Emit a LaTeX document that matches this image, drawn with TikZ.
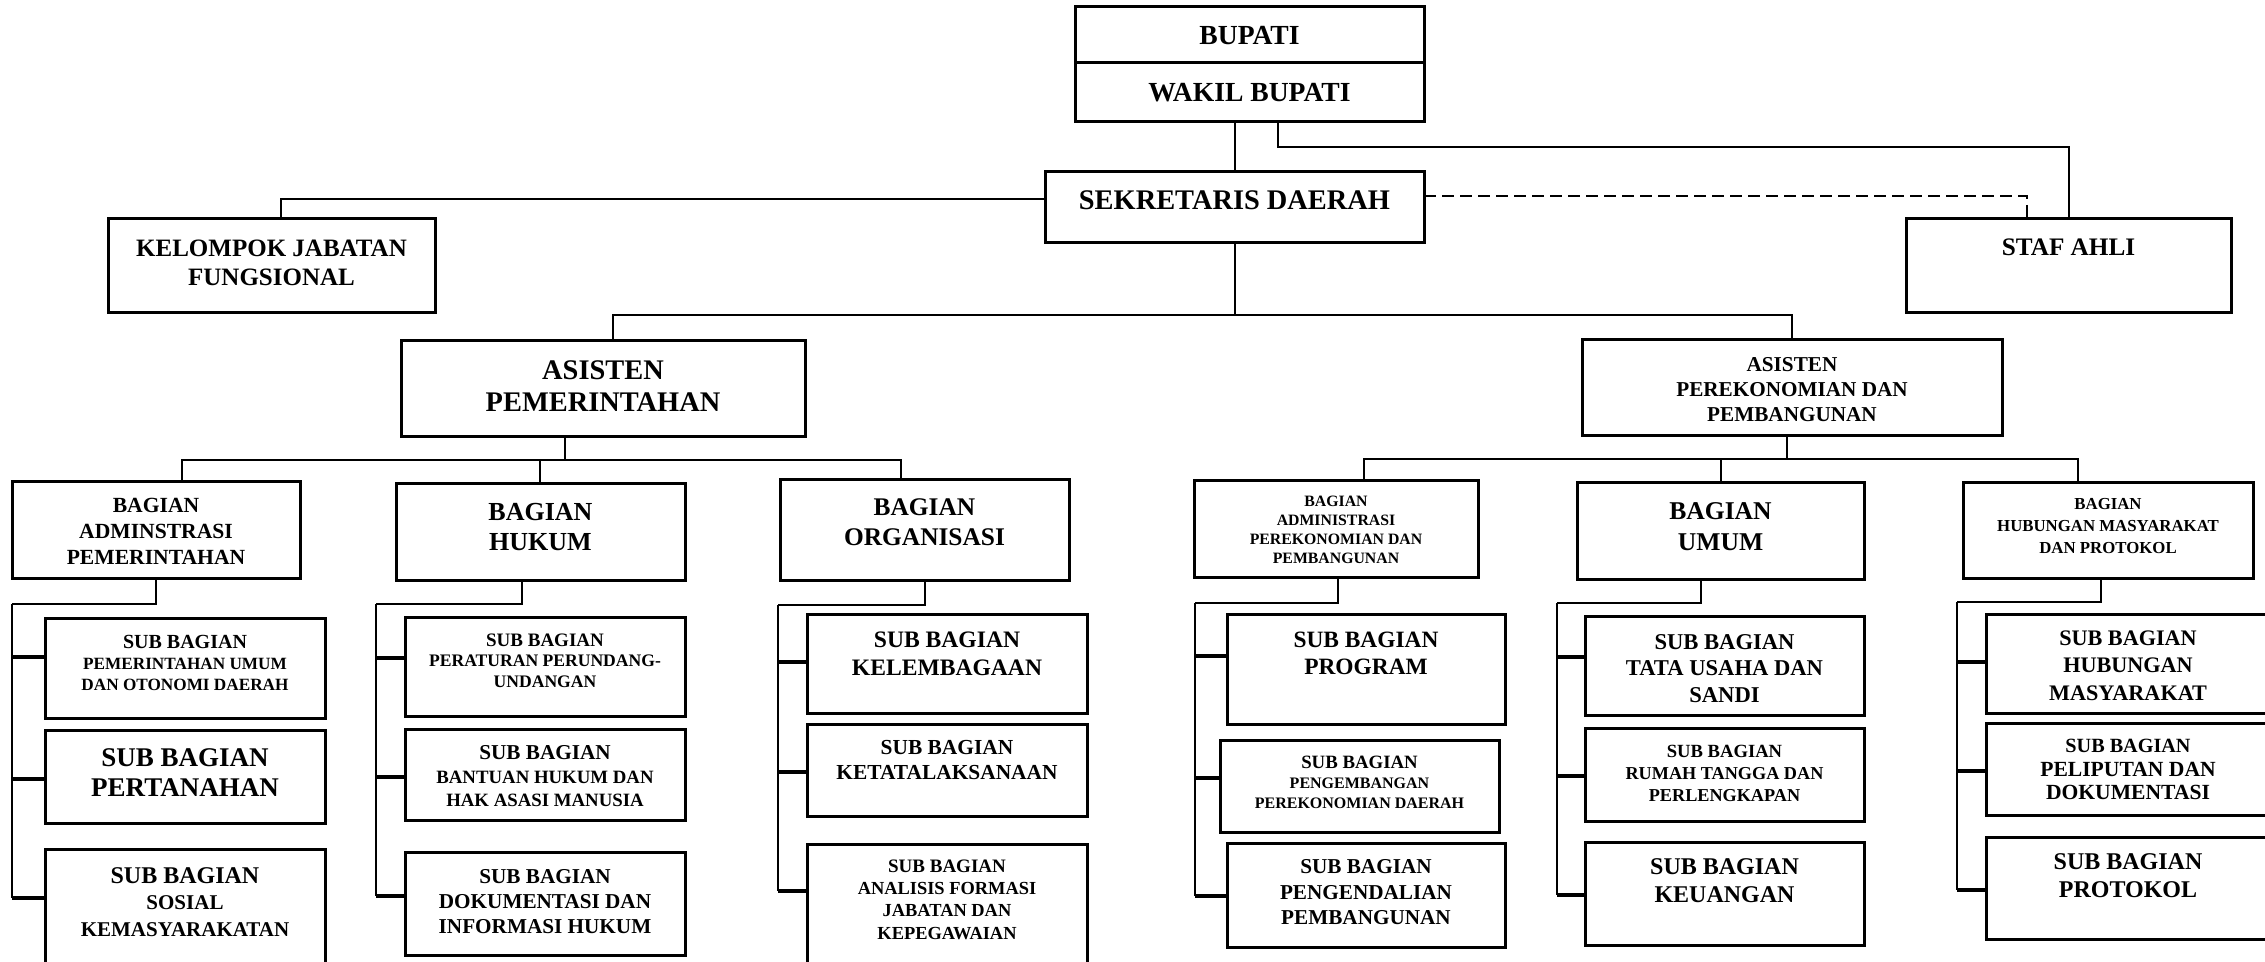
\documentclass[tikz,border=0pt]{standalone}
\usepackage{fontspec}
\setmainfont{Liberation Serif}
\newcommand\fz[2]{\fontsize{#1}{#2}\selectfont}
\tikzset{
  box/.style={draw, line width=1.5pt, inner sep=0pt, outer sep=0pt},
  lbl/.style={align=center, inner sep=0pt, outer sep=0pt},
  conn/.style={line width=1pt},
  tick/.style={line width=1.6pt},
  vbar/.style={line width=0.8pt}
}
\newcommand\obox[9]{%
  \node[box, minimum width={(#4-#2)*0.5pt}, minimum height={(#5-#3)*0.5pt}] (#1) at ({(#2+#4)/2},{(#3+#5)/2}) {};
  \node[lbl, font=\bfseries\fz{#7}{#8}] (#1-t) at ({(#2+#4)/2},#6) {#9};}
\begin{document}
\begin{tikzpicture}[x=0.5pt, y=-0.5pt]
\useasboundingbox (0,0) rectangle (2265,962);
\clip (0,0) rectangle (2265,962);
% top
\obox{bupati}{1075}{7}{1424}{63}{35.5}{13.8}{16}{BUPATI}
\obox{wakil}{1075}{63}{1424}{122}{93}{13.8}{16}{WAKIL BUPATI}
\obox{sekda}{1045}{172}{1424}{243}{200.5}{14.2}{16}{SEKRETARIS DAERAH}
\obox{kjf}{108}{219}{435}{313}{262.5}{12.5}{14.5}{KELOMPOK JABATAN\\FUNGSIONAL}
\obox{staf}{1906}{219}{2231}{313}{247}{12.6}{14}{STAF AHLI}
\obox{asp}{401}{341}{805}{437}{386}{14.2}{16}{ASISTEN\\PEMERINTAHAN}
\obox{ase}{1582}{340}{2002}{436}{389.5}{10.6}{12.5}{ASISTEN\\PEREKONOMIAN DAN\\PEMBANGUNAN}
% bagian
\obox{bap}{12}{482}{300}{578}{531}{10.8}{13}{BAGIAN\\ADMINSTRASI\\PEMERINTAHAN}
\obox{bhk}{396}{484}{685}{580}{527}{13}{15}{BAGIAN\\HUKUM}
\obox{bor}{780}{480}{1069}{580}{522}{12.7}{15}{BAGIAN\\ORGANISASI}
\obox{bae}{1194}{481}{1478}{577}{530}{7.9}{9.6}{BAGIAN\\ADMINISTRASI\\PEREKONOMIAN DAN\\PEMBANGUNAN}
\obox{bum}{1577}{483}{1864}{579}{526.5}{12.8}{15.5}{BAGIAN\\UMUM}
\obox{bhm}{1963}{483}{2253}{578}{526}{8.4}{10.8}{BAGIAN\\HUBUNGAN MASYARAKAT\\DAN PROTOKOL}
% sub bagian col 1
\obox{s11}{45}{618}{325}{718}{663}{8.6}{10.5}{{\fz{10}{10.5}SUB BAGIAN}\\PEMERINTAHAN UMUM\\DAN OTONOMI DAERAH}
\obox{s12}{45}{730}{325}{823}{773}{13.5}{15}{SUB BAGIAN\\PERTANAHAN}
\obox{s13}{45}{849}{325}{1000}{902}{10.5}{13.25}{{\fz{12}{13.25}SUB BAGIAN}\\SOSIAL\\KEMASYARAKATAN}
% col 2
\obox{s21}{405}{617}{685}{716}{660.5}{8.8}{10.25}{{\fz{9.5}{10.25}SUB BAGIAN}\\PERATURAN PERUNDANG-\\UNDANGAN}
\obox{s22}{405}{729}{685}{820}{776.5}{9.4}{11.75}{{\fz{10.6}{11.75}SUB BAGIAN}\\BANTUAN HUKUM DAN\\HAK ASASI MANUSIA}
\obox{s23}{405}{852}{685}{955}{902}{10.6}{12.5}{SUB BAGIAN\\DOKUMENTASI DAN\\INFORMASI HUKUM}
% col 3
\obox{s31}{807}{614}{1087}{713}{654}{11.8}{14}{SUB BAGIAN\\KELEMBAGAAN}
\obox{s32}{807}{724}{1087}{816}{760.5}{10.7}{12.5}{SUB BAGIAN\\KETATALAKSANAAN}
\obox{s33}{807}{844}{1087}{1000}{899.5}{9.2}{11.15}{{\fz{9.5}{11.15}SUB BAGIAN}\\ANALISIS FORMASI\\JABATAN DAN\\KEPEGAWAIAN}
% col 4
\obox{s41}{1227}{614}{1505}{724}{653.5}{11.7}{13.5}{SUB BAGIAN\\PROGRAM}
\obox{s42}{1220}{740}{1499}{832}{782}{8.0}{10}{{\fz{9.4}{10}SUB BAGIAN}\\PENGEMBANGAN\\PEREKONOMIAN DAERAH}
\obox{s43}{1227}{843}{1505}{947}{892.5}{10.6}{12.75}{SUB BAGIAN\\PENGENDALIAN\\PEMBANGUNAN}
% col 5
\obox{s51}{1585}{616}{1864}{715}{668.5}{11.3}{13.25}{SUB BAGIAN\\TATA USAHA DAN\\SANDI}
\obox{s52}{1585}{728}{1864}{821}{773}{9.1}{11}{{\fz{9.3}{11}SUB BAGIAN}\\RUMAH TANGGA DAN\\PERLENGKAPAN}
\obox{s53}{1585}{842}{1864}{945}{881}{12}{14}{SUB BAGIAN\\KEUANGAN}
% col 6
\obox{s61}{1986}{614}{2270}{713}{665.5}{11.1}{13.75}{SUB BAGIAN\\HUBUNGAN\\MASYARAKAT}
\obox{s62}{1986}{723}{2270}{815}{769.5}{10.8}{11.75}{{\fz{10.1}{11.75}SUB BAGIAN}\\PELIPUTAN DAN\\DOKUMENTASI}
\obox{s63}{1986}{837}{2270}{939}{876}{12}{14}{SUB BAGIAN\\PROTOKOL}

% top connectors
\draw[conn] (sekda.north) -- (sekda.north |- wakil.south);
\coordinate (j1) at (1278,147);
\draw[conn] (wakil.south -| j1) -- (j1) -| (staf.north);
\coordinate (j2) at (2027,196);
\draw[conn, dashed, dash pattern=on 6pt off 3pt] (sekda.east |- j2) -- (j2) -- (j2 |- staf.north);
\coordinate (j3) at (281,199);
\draw[conn] (sekda.west |- j3) -- (j3) -- (j3 |- kjf.north);
\coordinate (h1l) at (613,315);
\coordinate (h1r) at (1792,315);
\draw[conn] (sekda.south) -- (sekda.south |- h1l);
\draw[conn] (asp.north -| h1l) -- (h1l) -- (h1r) -- (ase.north -| h1r);
% asisten pemerintahan branch
\coordinate (a1) at (565,460);
\coordinate (a1l) at (182,460);
\coordinate (a1m) at (540,460);
\coordinate (a1r) at (901,460);
\draw[conn] (asp.south -| a1) -- (a1);
\draw[conn] (bap.north -| a1l) -- (a1l) -- (a1r) -- (bor.north -| a1r);
\draw[conn] (a1m) -- (bhk.north -| a1m);
% asisten perekonomian branch
\coordinate (a2) at (1787,459);
\coordinate (a2l) at (1364,459);
\coordinate (a2m) at (1721,459);
\coordinate (a2r) at (2078,459);
\draw[conn] (ase.south -| a2) -- (a2);
\draw[conn] (bae.north -| a2l) -- (a2l) -- (a2r) -- (bhm.north -| a2r);
\draw[conn] (a2m) -- (bum.north -| a2m);
% column 1
\coordinate (c1) at (156,604); \coordinate (v1) at (12,604); \coordinate (v1e) at (12,898);
\draw[conn] (bap.south -| c1) -- (c1) -- (v1);
\draw[vbar] (v1) -- (v1e);
\coordinate (t11) at (12,657); \coordinate (t12) at (12,779); \coordinate (t13) at (12,898);
\draw[tick] (t11) -- (t11 -| s11.west); \draw[tick] (t12) -- (t12 -| s12.west); \draw[tick] (t13) -- (t13 -| s13.west);
% column 2
\coordinate (c2) at (522,604); \coordinate (v2) at (376,604); \coordinate (v2e) at (376,896);
\draw[conn] (bhk.south -| c2) -- (c2) -- (v2);
\draw[vbar] (v2) -- (v2e);
\coordinate (t21) at (376,658); \coordinate (t22) at (376,777); \coordinate (t23) at (376,896);
\draw[tick] (t21) -- (t21 -| s21.west); \draw[tick] (t22) -- (t22 -| s22.west); \draw[tick] (t23) -- (t23 -| s23.west);
% column 3
\coordinate (c3) at (925,605); \coordinate (v3) at (778,605); \coordinate (v3e) at (778,891);
\draw[conn] (bor.south -| c3) -- (c3) -- (v3);
\draw[vbar] (v3) -- (v3e);
\coordinate (t31) at (778,662); \coordinate (t32) at (778,772); \coordinate (t33) at (778,891);
\draw[tick] (t31) -- (t31 -| s31.west); \draw[tick] (t32) -- (t32 -| s32.west); \draw[tick] (t33) -- (t33 -| s33.west);
% column 4
\coordinate (c4) at (1338,603); \coordinate (v4) at (1195,603); \coordinate (v4e) at (1195,896);
\draw[conn] (bae.south -| c4) -- (c4) -- (v4);
\draw[vbar] (v4) -- (v4e);
\coordinate (t41) at (1195,656); \coordinate (t42) at (1195,778); \coordinate (t43) at (1195,896);
\draw[tick] (t41) -- (t41 -| s41.west); \draw[tick] (t42) -- (t42 -| s42.west); \draw[tick] (t43) -- (t43 -| s43.west);
% column 5
\coordinate (c5) at (1701,603); \coordinate (v5) at (1557,603); \coordinate (v5e) at (1557,895);
\draw[conn] (bum.south -| c5) -- (c5) -- (v5);
\draw[vbar] (v5) -- (v5e);
\coordinate (t51) at (1557,657); \coordinate (t52) at (1557,776); \coordinate (t53) at (1557,895);
\draw[tick] (t51) -- (t51 -| s51.west); \draw[tick] (t52) -- (t52 -| s52.west); \draw[tick] (t53) -- (t53 -| s53.west);
% column 6
\coordinate (c6) at (2101,602); \coordinate (v6) at (1957,602); \coordinate (v6e) at (1957,890);
\draw[conn] (bhm.south -| c6) -- (c6) -- (v6);
\draw[vbar] (v6) -- (v6e);
\coordinate (t61) at (1957,662); \coordinate (t62) at (1957,771); \coordinate (t63) at (1957,890);
\draw[tick] (t61) -- (t61 -| s61.west); \draw[tick] (t62) -- (t62 -| s62.west); \draw[tick] (t63) -- (t63 -| s63.west);
\end{tikzpicture}
\end{document}
